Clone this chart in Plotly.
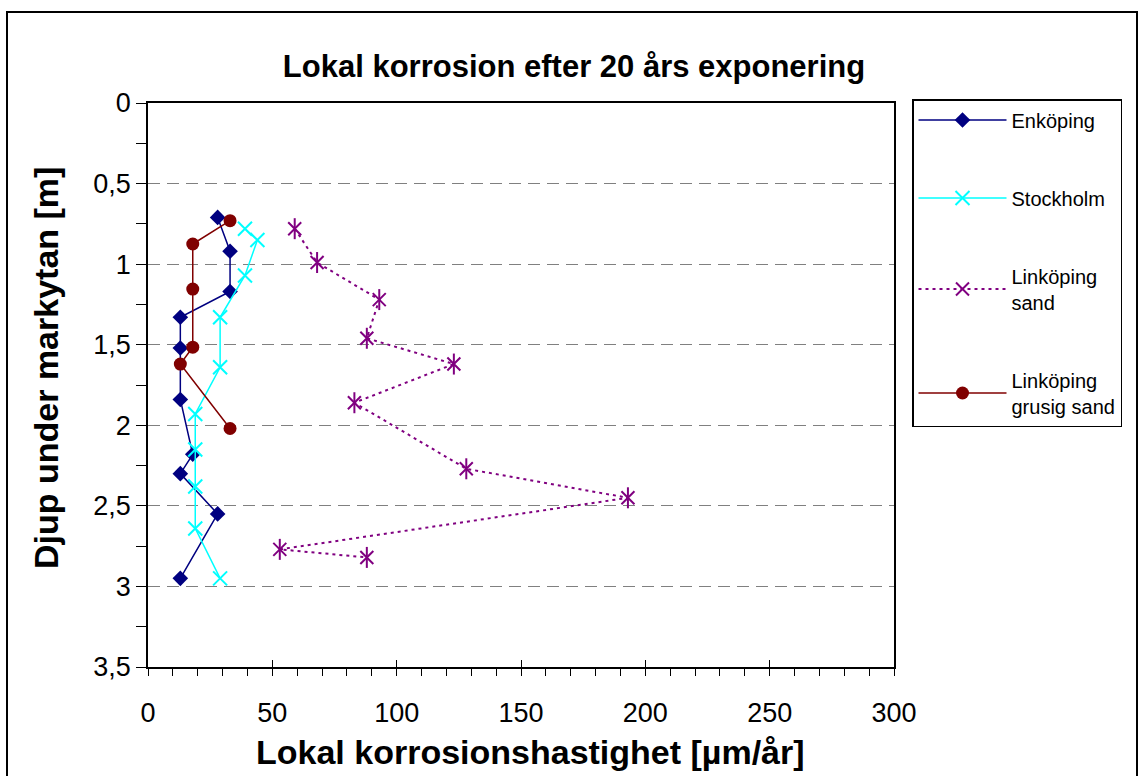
import plotly.graph_objects as go

# Depth below ground surface [m] and local corrosion rate [µm/år] per site
enk_depth = [0.71, 0.92, 1.17, 1.33, 1.52, 1.84, 2.18, 2.30, 2.55, 2.95]
enk_rate = [28, 33, 33, 13, 13, 13, 18, 13, 28, 13]

sth_depth = [0.78, 0.85, 1.07, 1.33, 1.64, 1.93, 2.15, 2.38, 2.64, 2.95]
sth_rate = [39, 44, 39, 29, 29, 19, 19, 19, 19, 29]

lks_depth = [0.78, 0.99, 1.22, 1.46, 1.62, 1.86, 2.27, 2.45, 2.77, 2.82]
lks_rate = [59, 68, 93, 88, 123, 83, 128, 193, 53, 88]

lkg_depth = [0.73, 0.875, 1.155, 1.515, 1.62, 2.02]
lkg_rate = [33, 18, 18, 18, 13, 33]

y_ticks = [0, 0.5, 1, 1.5, 2, 2.5, 3, 3.5]
y_ticktext = ["0", "0,5", "1", "1,5", "2", "2,5", "3", "3,5"]

FONT = "Liberation Sans, Arial, sans-serif"
W, H = 1139, 776
L, R, T, B = 148, 894, 103, 667  # plot area in pixels


def px_x(p):
    return (p - L) / (R - L)


def px_y(p):
    return (B - p) / (B - T)


fig = go.Figure()

fig.add_trace(go.Scatter(
    x=enk_rate, y=enk_depth, name="Enköping", mode="lines+markers",
    legendgroup="a",
    line=dict(color="#000080", width=1.5),
    marker=dict(symbol="diamond", size=12, color="#000080"),
))
fig.add_trace(go.Scatter(
    x=sth_rate, y=sth_depth, name="Stockholm", mode="lines+markers",
    legendgroup="b",
    line=dict(color="#00FFFF", width=1.5),
    marker=dict(symbol="x-thin-open", size=14, color="#00FFFF",
                line=dict(color="#00FFFF", width=2)),
))
fig.add_trace(go.Scatter(
    x=lks_rate, y=lks_depth, name="Linköping<br>sand", mode="lines+markers",
    legendgroup="c",
    line=dict(color="#800080", width=2, dash="3px,4px"),
    marker=dict(symbol="x-thin-open", size=13, color="#800080",
                line=dict(color="#800080", width=2)),
))
fig.add_trace(go.Scatter(
    x=lks_rate, y=lks_depth, mode="markers", showlegend=False,
    legendgroup="c", hoverinfo="skip",
    marker=dict(symbol="line-ns-open", size=15, color="#800080",
                line=dict(color="#800080", width=2)),
))
fig.add_trace(go.Scatter(
    x=lkg_rate, y=lkg_depth, name="Linköping<br>grusig sand",
    mode="lines+markers", legendgroup="d",
    line=dict(color="#800000", width=1.5),
    marker=dict(symbol="circle", size=13, color="#800000"),
))
# carrier for the overlay axis that draws the inward half of the x ticks
fig.add_trace(go.Scatter(x=[None], y=[None], xaxis="x2", showlegend=False,
                         hoverinfo="skip"))

fig.update_layout(
    width=W, height=H, autosize=False,
    margin=dict(l=L, r=W - R, t=T, b=H - B),
    paper_bgcolor="white", plot_bgcolor="white",
    font=dict(family=FONT, color="black"),
    title=dict(text="<b>Lokal korrosion efter 20 års exponering</b>",
               font=dict(size=31, family=FONT), xref="paper", x=px_x(574),
               xanchor="center", yref="container", y=1 - 66 / H,
               yanchor="middle"),
    xaxis=dict(range=[0, 300], dtick=50, tick0=0, showgrid=False,
               zeroline=False, showline=True, linecolor="black", linewidth=1.5,
               mirror=True, ticks="outside", ticklen=7, tickcolor="black",
               tickfont=dict(size=27), ticklabelstandoff=14,
               minor=dict(dtick=10, ticks="outside", ticklen=7,
                          tickcolor="black")),
    xaxis2=dict(range=[0, 300], overlaying="x", side="bottom", anchor="y",
                dtick=50, tick0=0, showgrid=False, zeroline=False,
                showticklabels=False, ticks="inside", ticklen=7,
                tickcolor="black"),
    yaxis=dict(range=[3.5, 0], tickvals=y_ticks, ticktext=y_ticktext,
               showgrid=True, gridcolor="#808080", gridwidth=1.2,
               griddash="12px,7px", zeroline=False, showline=True,
               linecolor="black", linewidth=1.5, mirror=True,
               ticks="outside", ticklen=10, tickcolor="black",
               tickfont=dict(size=27),
               minor=dict(dtick=0.25, tick0=0, ticks="outside", ticklen=10,
                          tickcolor="black", showgrid=False)),
    legend=dict(x=px_x(912), y=px_y(99), xanchor="left", yanchor="top",
                bgcolor="white", bordercolor="black", borderwidth=1.5,
                font=dict(size=20, family=FONT), tracegroupgap=49,
                itemwidth=88, traceorder="grouped", valign="middle"),
    annotations=[
        dict(text="<b>Lokal korrosionshastighet [µm/år]</b>", xref="paper",
             yref="paper", x=px_x(530), y=px_y(752), showarrow=False,
             font=dict(size=34, family=FONT), xanchor="center",
             yanchor="middle"),
        dict(text="<b>Djup under markytan [m]</b>", xref="paper",
             yref="paper", x=px_x(46), y=px_y(368), showarrow=False,
             font=dict(size=34, family=FONT), textangle=-90,
             xanchor="center", yanchor="middle"),
    ],
    shapes=[
        dict(type="rect", xref="paper", yref="paper", x0=px_x(7),
             x1=px_x(1137), y0=px_y(12), y1=px_y(790),
             line=dict(color="black", width=2), layer="below"),
    ],
)

fig.write_html("out.html")
